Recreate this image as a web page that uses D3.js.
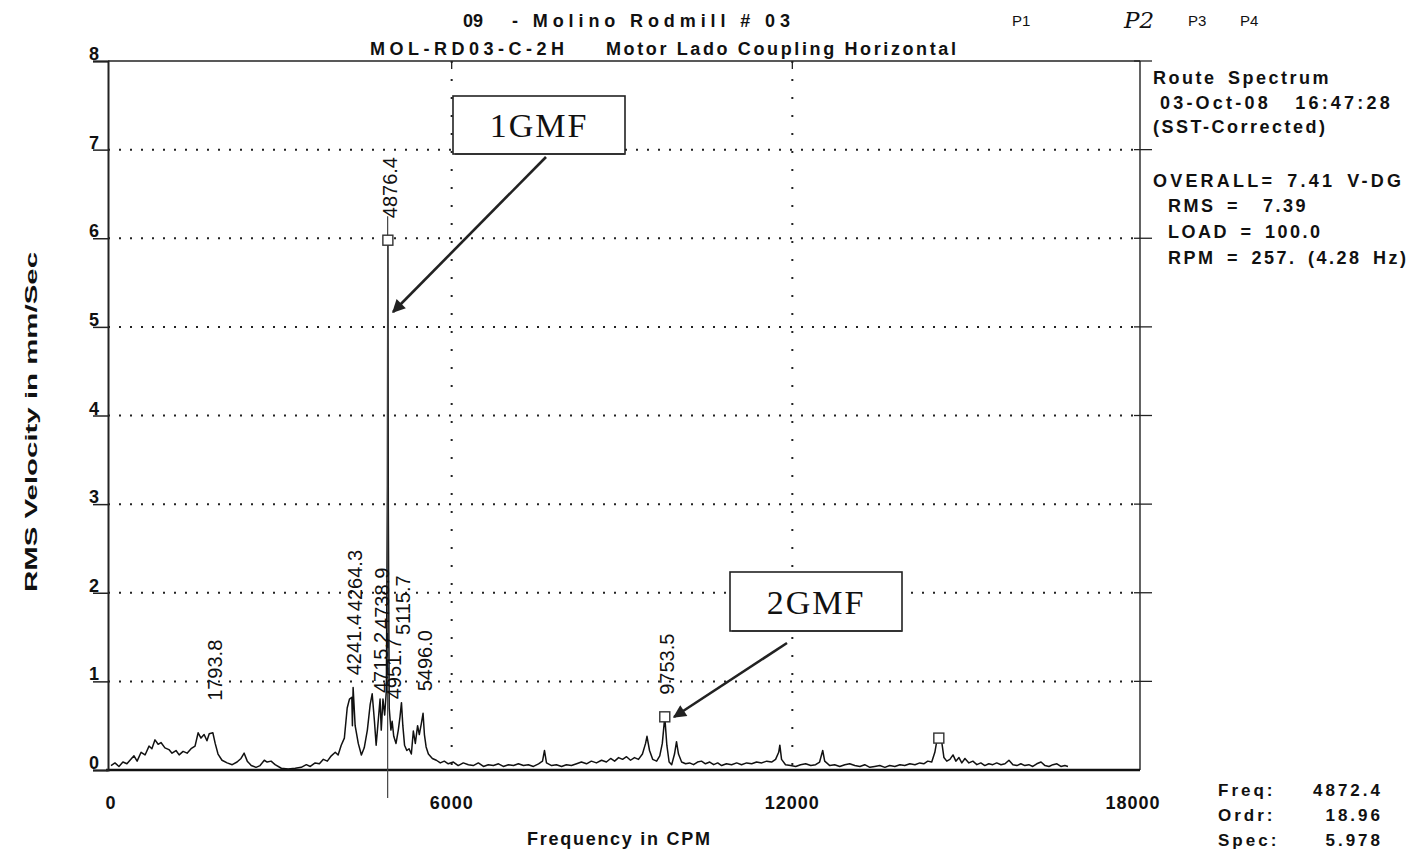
<!DOCTYPE html>
<html><head><meta charset="utf-8">
<script src="https://cdn.jsdelivr.net/npm/d3@7"></script>
<style>
body{margin:0;background:#fff}
svg{display:block}
text{font-family:"Liberation Sans",Arial,sans-serif;fill:#111}
</style>
</head><body>
<svg id="c" width="1410" height="850"></svg>
<script>
// ---------- data ----------
const freq = [0,70,140,210,280,350,405,460,530,600,670,720,775,830,880,950,1020,1075,1145,1200,1270,1340,1410,1480,1535,1585,1640,1690,1730,1793.8,1835,1885,1955,2045,2135,2220,2290,2345,2400,2470,2555,2625,2700,2750,2820,2890,3000,3120,3245,3350,3440,3510,3595,3670,3740,3810,3880,3950,4000,4055,4110,4160,4200,4241.4,4252,4264.3,4300,4355,4410,4460,4515,4565,4600,4640,4670,4715.2,4738.9,4760,4790,4820,4850,4868,4876.4,4884,4900,4930,4951.7,4980,5020,5060,5090,5115.7,5140,5170,5210,5250,5290,5325,5360,5400,5430,5465,5496.0,5520,5550,5590,5660,5730,5800,5870,5940,6030,6115,6205,6295,6380,6470,6560,6645,6735,6825,6910,7000,7090,7175,7265,7350,7440,7530,7600,7635,7670,7760,7845,7935,8020,8110,8200,8285,8375,8460,8550,8640,8725,8800,8870,8940,9010,9080,9150,9220,9290,9360,9415,9440,9485,9540,9610,9665,9710,9753.5,9790,9830,9875,9925,9960,9995,10050,10120,10190,10260,10330,10400,10470,10545,10615,10685,10755,10840,10930,11020,11105,11195,11285,11370,11460,11550,11635,11705,11760,11780,11810,11880,11970,12060,12145,12235,12325,12410,12480,12535,12570,12660,12745,12835,12925,13010,13100,13190,13275,13365,13450,13540,13630,13715,13805,13895,13980,14070,14160,14245,14315,14385,14455,14510,14545,14580,14635,14670,14720,14775,14830,14880,14935,14985,15040,15110,15180,15250,15320,15390,15460,15530,15600,15675,15745,15815,15885,15955,16025,16095,16165,16235,16305,16380,16450,16520,16590,16660,16730,16800,16855];
const amp = [0.05,0.08,0.04,0.09,0.07,0.12,0.16,0.10,0.20,0.17,0.27,0.24,0.34,0.29,0.31,0.25,0.23,0.19,0.22,0.17,0.21,0.19,0.24,0.27,0.42,0.36,0.40,0.33,0.41,0.42,0.30,0.18,0.11,0.08,0.06,0.09,0.13,0.19,0.10,0.05,0.03,0.05,0.11,0.09,0.10,0.06,0.02,0.01,0.02,0.03,0.06,0.04,0.08,0.07,0.12,0.10,0.16,0.20,0.17,0.28,0.36,0.70,0.80,0.82,0.50,0.93,0.50,0.30,0.17,0.25,0.45,0.74,0.86,0.55,0.28,0.62,0.80,0.45,0.80,0.62,0.90,3.2,5.978,3.0,0.70,0.45,0.55,0.38,0.30,0.45,0.60,0.76,0.50,0.28,0.22,0.24,0.18,0.44,0.30,0.50,0.40,0.52,0.64,0.40,0.26,0.18,0.13,0.11,0.08,0.10,0.07,0.09,0.05,0.08,0.06,0.05,0.08,0.04,0.06,0.05,0.07,0.04,0.06,0.05,0.07,0.05,0.06,0.04,0.07,0.10,0.22,0.08,0.05,0.06,0.04,0.06,0.05,0.07,0.09,0.07,0.10,0.08,0.11,0.09,0.13,0.10,0.14,0.12,0.15,0.11,0.14,0.12,0.18,0.30,0.38,0.22,0.12,0.10,0.16,0.30,0.60,0.28,0.09,0.06,0.18,0.32,0.18,0.09,0.07,0.08,0.06,0.09,0.10,0.07,0.09,0.06,0.08,0.05,0.07,0.06,0.08,0.06,0.08,0.07,0.09,0.08,0.10,0.09,0.12,0.20,0.28,0.12,0.06,0.05,0.04,0.06,0.07,0.05,0.06,0.09,0.22,0.10,0.05,0.06,0.04,0.06,0.07,0.05,0.04,0.06,0.03,0.04,0.05,0.03,0.05,0.04,0.06,0.05,0.07,0.06,0.08,0.07,0.10,0.09,0.20,0.33,0.36,0.30,0.14,0.10,0.12,0.17,0.10,0.14,0.08,0.13,0.08,0.10,0.06,0.08,0.05,0.07,0.06,0.08,0.06,0.07,0.11,0.06,0.05,0.07,0.05,0.06,0.04,0.07,0.09,0.05,0.04,0.06,0.07,0.04,0.05,0.04];

const labelFreq = [1793.8,4241.4,4264.3,4715.2,4738.9,4876.4,4951.7,5115.7,5496.0,9753.5];
const labelText = ["1793.8","4241.4","4264.3","4715.2","4738.9","4876.4","4951.7","5115.7","5496.0","9753.5"];
const markerFreq = [4876.4,9753.5,14580];
const cursorFreq = 4872.4;

const xTickValues = [0,6000,12000,18000];
const yTickValues = [0,1,2,3,4,5,6,7,8];
const xGridValues = [6000,12000];
const yGridValues = [1,2,3,4,5,6,7];

const titleLine1 = ["09", "- Molino Rodmill # 03"];
const titleLine2 = ["MOL-RD03-C-2H", "Motor Lado Coupling Horizontal"];
const pointLabels = ["P1","P2","P3","P4"];
const infoLines = ["Route Spectrum","03-Oct-08  16:47:28","(SST-Corrected)","","OVERALL= 7.41 V-DG","RMS =  7.39","LOAD = 100.0","RPM = 257. (4.28 Hz)"];
const cursorNames = ["Freq:","Ordr:","Spec:"];
const cursorValues = ["4872.4","18.96","5.978"];
const annotations = ["1GMF","2GMF"];
const xTitle = "Frequency in CPM";
const yTitle = "RMS Velocity in mm/Sec";

// ---------- layout ----------
const svg = d3.select("#c");
const L = 108, R = 1140, T = 61, B = 770;
const x = d3.scaleLinear().domain([0,18000]).range([111,1133]);
const y = d3.scaleLinear().domain([0,8]).range([B,T]);
const pts = freq.map((f,i)=>({f, a:amp[i]}));
const ampAt = f => amp[freq.indexOf(f)];
const FONT = "'Liberation Sans',Arial,sans-serif";

// grid
const g = svg.append("g");
g.selectAll(".hg").data(yGridValues).join("line")
  .attr("x1",L).attr("x2",R).attr("y1",d=>y(d)).attr("y2",d=>y(d))
  .attr("stroke","#222").attr("stroke-width",2).attr("stroke-dasharray","2,9");
g.selectAll(".vg").data(xGridValues).join("line")
  .attr("x1",d=>x(d)).attr("x2",d=>x(d)).attr("y1",T).attr("y2",B)
  .attr("stroke","#222").attr("stroke-width",2).attr("stroke-dasharray","2,16");

// frame
svg.append("line").attr("x1",L).attr("x2",R).attr("y1",T).attr("y2",T).attr("stroke","#222").attr("stroke-width",1.6);
svg.append("line").attr("x1",R).attr("x2",R).attr("y1",T).attr("y2",B).attr("stroke","#222").attr("stroke-width",1.4);
svg.append("line").attr("x1",L-2).attr("x2",R).attr("y1",B).attr("y2",B).attr("stroke","#111").attr("stroke-width",2.5);
svg.selectAll(".rt").data(yTickValues.slice(1)).join("line")
  .attr("x1",R-6).attr("x2",R+12).attr("y1",d=>y(d)).attr("y2",d=>y(d)).attr("stroke","#222").attr("stroke-width",1.3);
svg.selectAll(".tt").data(xGridValues).join("line")
  .attr("x1",d=>x(d)).attr("x2",d=>x(d)).attr("y1",T).attr("y2",T+8).attr("stroke","#222").attr("stroke-width",1.3);

// y axis (ticks from d3 axis, labels drawn bold from the same scale)
const ya = svg.append("g").attr("transform",`translate(${L},0)`)
  .call(d3.axisLeft(y).tickValues(yTickValues).tickSize(15).tickFormat(""));
ya.select(".domain").attr("stroke","#222").attr("stroke-width",2);
ya.selectAll(".tick line").attr("stroke","#222").attr("stroke-width",1.5);
svg.selectAll(".ylab").data(yTickValues).join("text")
  .attr("x",L-9).attr("y",d=>y(d)-1).attr("text-anchor","end")
  .attr("font-size",18).attr("font-weight","bold").attr("fill","#111").text(d=>d);

// x axis
const xa = svg.append("g").attr("transform",`translate(0,${B})`)
  .call(d3.axisBottom(x).tickValues(xTickValues).tickSize(0).tickFormat(""));
xa.select(".domain").remove();
svg.selectAll(".xlab").data(xTickValues).join("text")
  .attr("x",d=>x(d)).attr("y",B+39).attr("text-anchor","middle")
  .attr("font-size",18).attr("font-weight","bold").attr("fill","#111").style("letter-spacing","1px").text(d=>d);

// spectrum
svg.append("path").datum(pts)
  .attr("d", d3.line().x(d=>x(d.f)).y(d=>y(d.a)))
  .attr("fill","none").attr("stroke","#111").attr("stroke-width",1.5).attr("stroke-linejoin","round");

// cursor
svg.append("line").attr("x1",x(cursorFreq)).attr("x2",x(cursorFreq))
  .attr("y1",y(ampAt(4876.4))-24).attr("y2",B+28).attr("stroke","#444").attr("stroke-width",1.2);

// markers
svg.selectAll(".mk").data(markerFreq).join("rect")
  .attr("x",d=>x(d)-5).attr("y",d=>y(ampAt(d))-5).attr("width",10).attr("height",10)
  .attr("fill","#fff").attr("stroke","#333").attr("stroke-width",1.4);

// peak labels (rotated, stacked when they collide)
const placed = [];
const minBase = y(0.78);
labelFreq.forEach((f,i)=>{
  const px = x(f);
  let base = Math.min(y(ampAt(f)) - 22, minBase);
  const t = svg.append("text").attr("font-size",20).attr("fill","#333")
    .attr("dy","0.35em").text(labelText[i]);
  const len = t.node().getComputedTextLength();
  let moved = true;
  while(moved){
    moved = false;
    for(const p of placed){
      if(Math.abs(px-p.x) < 12 && base > p.base - p.len - 3 && base - len < p.base){
        base = p.base - p.len - 3; moved = true;
      }
    }
  }
  t.attr("transform",`translate(${px+2},${base}) rotate(-90)`);
  placed.push({x:px, base, len});
});

// annotation boxes and arrows
const defs = svg.append("defs");
defs.append("marker").attr("id","ah").attr("viewBox","0 0 10 10").attr("refX",9).attr("refY",5)
  .attr("markerWidth",6).attr("markerHeight",5).attr("orient","auto")
  .append("path").attr("d","M0,0L10,5L0,10z").attr("fill","#222");
const boxes = [{x:453,y:96,w:172,h:58,ax1:546,ay1:157,ax2:393,ay2:312},
               {x:730,y:572,w:172,h:59,ax1:787,ay1:643,ax2:674,ay2:717}];
boxes.forEach((b,i)=>{
  svg.append("rect").attr("x",b.x).attr("y",b.y).attr("width",b.w).attr("height",b.h)
    .attr("fill","#fff").attr("stroke","#222").attr("stroke-width",1.6);
  svg.append("line").attr("x1",b.x+2).attr("x2",b.x+b.w).attr("y1",b.y+b.h).attr("y2",b.y+b.h).attr("stroke","#333").attr("stroke-width",2.2);
  svg.append("text").attr("x",b.x+b.w/2).attr("y",b.y+b.h/2+12).attr("text-anchor","middle")
    .attr("font-size",34).style("font-family","'Liberation Serif','Times New Roman',serif").attr("letter-spacing","2px").attr("fill","#222")
    .text(annotations[i]);
  svg.append("line").attr("x1",b.ax1).attr("y1",b.ay1).attr("x2",b.ax2).attr("y2",b.ay2)
    .attr("stroke","#222").attr("stroke-width",2.6).attr("marker-end","url(#ah)");
});

// titles
const bold = sel => sel.attr("font-weight","bold");
bold(svg.append("text").attr("x",463).attr("y",27).attr("font-size",18).text(titleLine1[0]));
bold(svg.append("text").attr("x",512).attr("y",27).attr("font-size",18).attr("textLength",278).attr("lengthAdjust","spacing").text(titleLine1[1]));
bold(svg.append("text").attr("x",370).attr("y",55).attr("font-size",18).attr("textLength",194).attr("lengthAdjust","spacing").text(titleLine2[0]));
bold(svg.append("text").attr("x",606).attr("y",55).attr("font-size",18).attr("textLength",350).attr("lengthAdjust","spacing").text(titleLine2[1]));
svg.append("text").attr("x",1012).attr("y",26).attr("font-size",15).text(pointLabels[0]);
svg.append("text").attr("x",1124).attr("y",28).attr("font-size",23).style("font-family","'DejaVu Serif',serif").style("font-style","italic").attr("fill","#333").text(pointLabels[1]);
svg.append("text").attr("x",1188).attr("y",26).attr("font-size",15).text(pointLabels[2]);
svg.append("text").attr("x",1240).attr("y",26).attr("font-size",15).text(pointLabels[3]);

// info block
const infoY = [84,109,133,0,187,212,238,264];
const infoX = [1153,1160,1153,0,1153,1168,1168,1168];
const infoLS = [2.5,3.2,2.5,0,3.2,2.5,2.5,2.5];
infoLines.forEach((s,i)=>{ if(!s) return;
  bold(svg.append("text").attr("x",infoX[i]).attr("y",infoY[i]).attr("font-size",18)
    .style("letter-spacing",infoLS[i]+"px").style("word-spacing","4px").style("white-space","pre").text(s));
});

// cursor readout
cursorNames.forEach((s,i)=>{
  const yy = 796 + i*25;
  bold(svg.append("text").attr("x",1218).attr("y",yy).attr("font-size",17).style("letter-spacing","3px").text(s));
  bold(svg.append("text").attr("x",1383).attr("y",yy).attr("font-size",17).style("letter-spacing","3px").attr("text-anchor","end").text(cursorValues[i]));
});

// axis titles
bold(svg.append("text").attr("x",527).attr("y",845).attr("font-size",18).attr("textLength",183).attr("lengthAdjust","spacing").text(xTitle));
bold(svg.append("text").attr("transform","translate(37,592) rotate(-90)").attr("font-size",17)
  .attr("textLength",340).attr("lengthAdjust","spacingAndGlyphs").attr("fill","#222").text(yTitle));
</script>
</body></html>
